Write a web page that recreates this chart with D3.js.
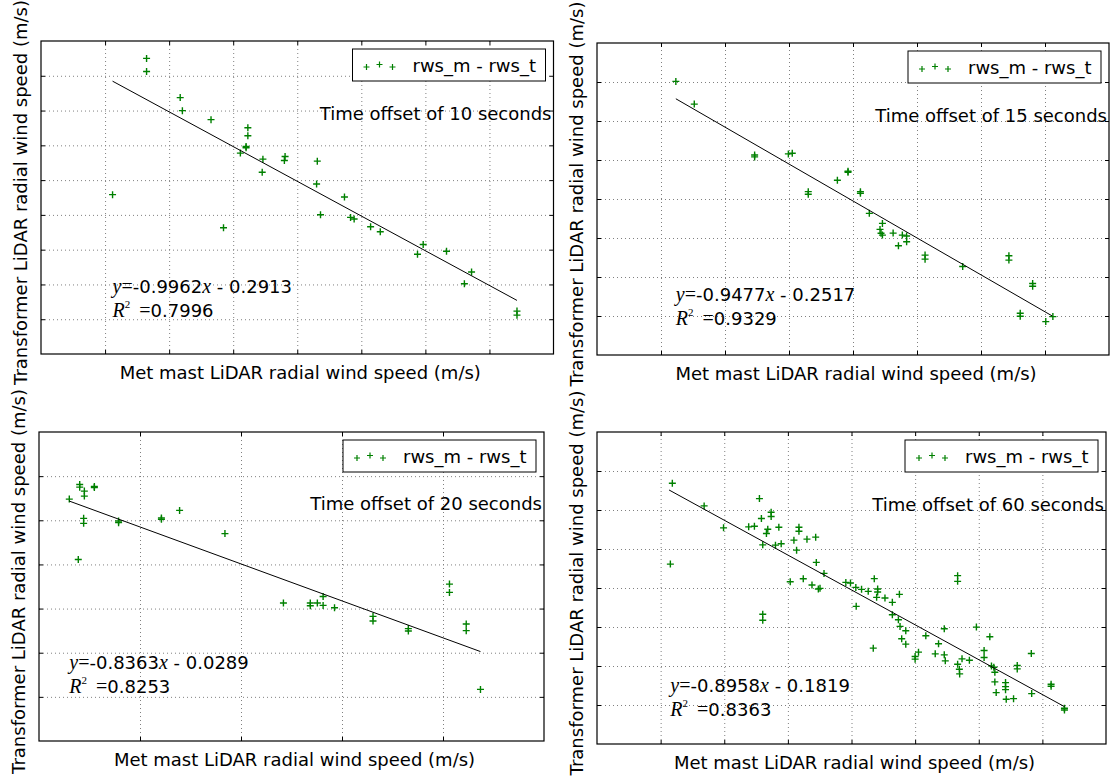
<!DOCTYPE html>
<html>
<head>
<meta charset="utf-8">
<script src="https://cdn.jsdelivr.net/npm/d3@7"></script>
<style>
  html, body { margin: 0; padding: 0; background: #fff; }
  svg { display: block; }
  text { font-family: "DejaVu Sans", sans-serif; }
</style>
</head>
<body>
<svg id="chart" width="1110" height="777"></svg>
<script>
// ---------------- DATA (grid units; the reference shows no tick labels) ----------------
const xLabel = "Met mast LiDAR radial wind speed (m/s)";
const yLabel = "Transformer LiDAR radial wind speed (m/s)";
const legendLabel = "rws_m - rws_t";
const offsetLabels = ["Time offset of 10 seconds", "Time offset of 15 seconds", "Time offset of 20 seconds", "Time offset of 60 seconds"];
const slopes = ["-0.9962", "-0.9477", "-0.8363", "-0.8958"];
const intercepts = ["0.2913", "0.2517", "0.0289", "0.1819"];
const r2Values = ["0.7996", "0.9329", "0.8253", "0.8363"];
const gridCountsX = [8, 8, 5, 8];
const gridCountsY = [9, 8, 7, 8];

// 10 s offset
const x10 = [1.648,1.648,2.173,2.207,2.654,3.229,3.229,3.201,3.201,3.112,3.464,3.453,3.799,3.810,4.313,4.302,1.117,2.849,4.737,4.363,4.832,4.888,5.145,5.296,5.966,5.877,6.330,6.721,6.609,7.430,7.430];
const y10 = [8.50,8.124,7.373,6.998,6.738,6.507,6.276,5.968,5.93,5.776,5.603,5.227,5.564,5.68,5.545,4.89,4.582,3.629,4.515,4.005,3.928,3.88,3.658,3.514,3.148,2.869,2.956,2.359,2.022,1.233,1.117];
const fit10 = [[1.117, 7.845], [7.430, 1.541]];

// 15 s offset
const x15 = [1.232,1.520,2.463,2.463,2.990,3.051,3.301,3.301,3.756,3.922,3.922,4.116,4.116,4.255,4.460,4.422,4.438,4.460,4.627,4.771,4.838,4.710,4.838,5.126,5.126,5.714,6.436,6.436,6.807,6.807,6.613,6.613,7.012,7.123];
const y15 = [7.015,6.433,5.13,5.08,5.156,5.173,4.188,4.12,4.48,4.711,4.685,4.188,4.146,3.632,3.375,3.22,3.12,3.075,3.126,3.075,3.05,2.801,2.904,2.561,2.458,2.27,2.544,2.433,1.833,1.764,1.071,0.994,0.857,0.985];
const fit15 = [[1.232, 6.570], [7.112, 1.002]];

// 20 s offset
const x20 = [0.300,0.403,0.403,0.449,0.449,0.548,0.548,0.442,0.442,0.788,0.788,1.212,1.212,1.392,1.841,0.389,2.420,2.686,2.686,2.756,2.813,2.813,2.926,3.307,3.307,3.657,3.657,4.064,4.064,4.230,4.230,4.371];
const y20 = [5.48,5.811,5.751,5.661,5.548,5.766,5.743,5.044,4.931,4.983,4.946,5.051,5.021,5.224,4.698,4.111,3.125,3.125,3.065,3.125,3.275,3.072,3.02,2.824,2.719,2.546,2.493,3.554,3.366,2.651,2.5,1.169];
const fit20 = [[0.300, 5.435], [4.371, 2.026]];

// 60 s offset
const x60 = [1.184,1.684,1.989,1.153,2.553,2.584,2.737,2.737,2.384,2.474,2.684,2.663,2.858,2.605,2.805,2.895,3.174,3.174,3.095,3.300,3.437,3.137,3.447,3.568,3.037,3.242,3.379,3.479,3.505,2.605,2.605,3.911,3.984,4.068,4.158,4.263,4.074,
  4.358,4.411,4.411,4.395,4.526,4.642,4.753,4.642,4.737,4.763,4.853,4.789,4.853,4.342,5.0,5.0,5.053,5.168,5.316,5.368,5.458,5.458,5.474,5.668,5.668,5.668,5.695,5.700,5.737,5.853,5.963,6.174,6.084,6.084,6.2,6.237,6.253,6.253,6.274,6.421,6.421,6.421,6.432,6.547,6.605,6.605,6.826,6.832,7.137,7.137,7.347,7.347];
const y60 = [6.685,6.105,5.542,4.613,6.292,5.781,5.943,5.832,5.568,5.585,5.508,5.397,5.559,5.107,5.099,5.133,5.559,5.457,5.227,5.252,5.304,4.971,4.656,4.374,4.161,4.238,4.076,3.974,3.991,3.326,3.172,4.144,4.127,4.016,3.965,3.914,3.530,
  4.24,3.974,3.897,3.76,3.743,3.632,3.837,3.314,3.186,3.015,2.903,2.698,2.560,2.458,2.243,2.175,2.355,2.775,2.312,2.569,2.955,2.286,2.132,4.317,4.171,2.046,1.918,1.798,2.183,2.149,2.997,2.749,2.398,2.218,2.003,1.969,1.841,1.592,1.318,1.575,1.472,1.393,1.147,1.163,2.012,1.926,2.32,1.292,1.532,1.481,0.915,0.872];
const fit60 = [[1.132, 6.514], [7.347, 0.958]];

const seriesX = [x10, x15, x20, x60];
const seriesY = [y10, y15, y20, y60];
const fits = [fit10, fit15, fit20, fit60];

// ---------------- LAYOUT ----------------
const boxes = [
  {left: 41,  top: 41,  right: 553.5, bottom: 354,   eqOff: 68, tY: 72},
  {left: 597, top: 43,  right: 1109,  bottom: 355,   eqOff: 61, tY: 72},
  {left: 39,  top: 432, right: 544,   bottom: 741,   eqOff: 79, tY: 71},
  {left: 597, top: 432, right: 1106,  bottom: 744,   eqOff: 59, tY: 72}
];
const green = "#008000";
const FS = 18;
const plusPath = r => `M${-r},0H${r}M0,${-r}V${r}`;

const svg = d3.select("#chart");

boxes.forEach((b, i) => {
  const w = b.right - b.left, h = b.bottom - b.top;
  const nx = gridCountsX[i], ny = gridCountsY[i];
  const x = d3.scaleLinear().domain([0, nx]).range([0, w]);
  const y = d3.scaleLinear().domain([0, ny]).range([h, 0]);
  const xt = d3.range(1, nx), yt = d3.range(1, ny);

  const g = svg.append("g").attr("transform", `translate(${b.left},${b.top})`);

  // grid (dotted)
  const gx = g.append("g").attr("transform", `translate(0,${h})`)
    .call(d3.axisBottom(x).tickValues(xt).tickSize(-h).tickFormat(""));
  const gy = g.append("g")
    .call(d3.axisLeft(y).tickValues(yt).tickSize(-w).tickFormat(""));
  [gx, gy].forEach(a => {
    a.select(".domain").remove();
    a.selectAll("line").attr("stroke", "#808080").attr("stroke-width", 1)
      .attr("stroke-dasharray", "1,3");
  });

  // inward ticks on all four sides
  const tk = 4;
  const axes = [
    g.append("g").attr("transform", `translate(0,${h})`).call(d3.axisBottom(x).tickValues(xt).tickSize(-tk).tickFormat("")),
    g.append("g").call(d3.axisTop(x).tickValues(xt).tickSize(-tk).tickFormat("")),
    g.append("g").call(d3.axisLeft(y).tickValues(yt).tickSize(-tk).tickFormat("")),
    g.append("g").attr("transform", `translate(${w},0)`).call(d3.axisRight(y).tickValues(yt).tickSize(-tk).tickFormat(""))
  ];
  axes.forEach(a => { a.select(".domain").remove(); a.selectAll("line").attr("stroke", "#000").attr("stroke-width", 1); });

  // frame
  g.append("rect").attr("x", 0).attr("y", 0).attr("width", w).attr("height", h)
    .attr("fill", "none").attr("stroke", "#000").attr("stroke-width", 1.2);

  // points
  const pts = seriesX[i].map((v, k) => [v, seriesY[i][k]]);
  g.append("g").selectAll("path").data(pts).join("path")
    .attr("transform", d => `translate(${x(d[0])},${y(d[1])})`)
    .attr("d", plusPath(3.5))
    .attr("stroke", green).attr("stroke-width", 1.4).attr("fill", "none");

  // fit line
  g.append("path").datum(fits[i])
    .attr("d", d3.line().x(d => x(d[0])).y(d => y(d[1])))
    .attr("stroke", "#000").attr("stroke-width", 1).attr("fill", "none");

  // legend
  const lw = 193, lh = 32;
  const lg = g.append("g").attr("transform", `translate(${w - 8 - lw},8)`);
  lg.append("rect").attr("width", lw).attr("height", lh)
    .attr("fill", "#fff").attr("stroke", "#000").attr("stroke-width", 1);
  const legendMarks = [[14, 18], [27, 15.5], [40, 18]];
  lg.selectAll("path.lm").data(legendMarks).join("path").attr("class", "lm")
    .attr("transform", d => `translate(${d[0]},${d[1]})`)
    .attr("d", plusPath(3))
    .attr("stroke", green).attr("stroke-width", 1.2);
  lg.append("text").attr("x", 60).attr("y", 22.5).attr("font-size", FS).attr("fill", "#000").text(legendLabel);

  // time-offset annotation
  g.append("text").attr("x", w - 2).attr("y", b.tY + 6.5).attr("text-anchor", "end")
    .attr("font-size", FS).attr("fill", "#000").text(offsetLabels[i]);

  // equation
  const ex = x(d3.min(seriesX[i]));
  const eq = g.append("text").attr("x", ex).attr("y", h - b.eqOff + 6.5).attr("font-size", FS).attr("fill", "#000");
  eq.append("tspan").attr("font-family", "Liberation Serif, serif").attr("font-style", "italic").attr("font-size", FS + 2).text("y");
  eq.append("tspan").attr("font-family", "Liberation Serif, serif").attr("font-size", FS + 2).text("=");
  eq.append("tspan").text(slopes[i]);
  eq.append("tspan").attr("font-family", "Liberation Serif, serif").attr("font-style", "italic").attr("font-size", FS + 2).text("x");
  eq.append("tspan").text(" - " + intercepts[i]);

  const r2 = g.append("text").attr("x", ex).attr("y", h - b.eqOff + 30.5).attr("font-size", FS).attr("fill", "#000");
  r2.append("tspan").attr("font-family", "Liberation Serif, serif").attr("font-style", "italic").attr("font-size", FS + 2).text("R");
  r2.append("tspan").attr("font-family", "Liberation Serif, serif").attr("font-size", 11).attr("dy", -9).text("2");
  r2.append("tspan").attr("font-family", "Liberation Serif, serif").attr("font-size", FS + 2).attr("dy", 9).attr("dx", 4).text("\u00a0=");
  r2.append("tspan").text(r2Values[i]);

  // axis labels
  svg.append("text").attr("x", b.left + w / 2 + 3).attr("y", b.bottom + 25)
    .attr("text-anchor", "middle").attr("font-size", FS).attr("fill", "#000").text(xLabel);
  svg.append("text")
    .attr("transform", `translate(${b.left - 14},${b.top + h / 2 - 5}) rotate(-90)`)
    .attr("text-anchor", "middle").attr("font-size", FS).attr("fill", "#000").text(yLabel);
});
</script>
</body>
</html>
